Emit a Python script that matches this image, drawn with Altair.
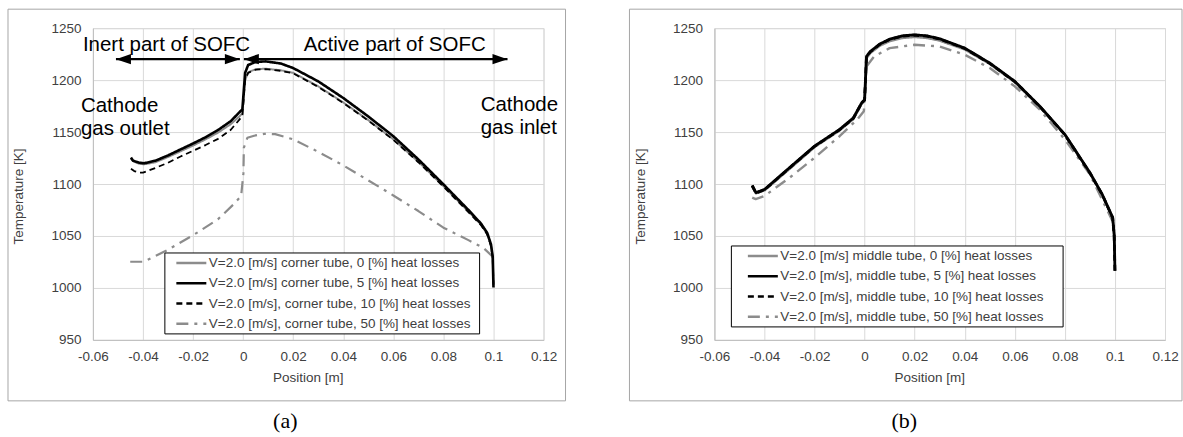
import altair as alt
import pandas as pd

FONT = "Liberation Sans"
GREY = "#8c8c8c"

# ---------------- data: panel (a) corner tube ----------------
A_NAMES = [
    "V=2.0 [m/s] corner tube, 0 [%] heat losses",
    "V=2.0 [m/s] corner tube, 5 [%] heat losses",
    "V=2.0 [m/s], corner tube, 10 [%] heat losses",
    "V=2.0 [m/s], corner tube, 50 [%] heat losses",
]
a0_x = [-0.0448, -0.0440, -0.0415, -0.0395, -0.035, -0.030, -0.025, -0.020, -0.015, -0.010, -0.005, -0.0015, -0.0003,
        0.0008, 0.0020, 0.0050, 0.0090, 0.0150, 0.0200, 0.0300, 0.0400, 0.0500, 0.0600, 0.0700, 0.0800, 0.0900,
        0.0950, 0.0975, 0.0990, 0.0997, 0.1000]
a0_t = [1124.5, 1122.0, 1119.5, 1119.0, 1121.0, 1126.0, 1131.5, 1137.0, 1143.0, 1149.5, 1157.5, 1165.0, 1168.0,
        1200.0, 1207.5, 1210.5, 1211.0, 1209.5, 1207.0, 1194.0, 1178.5, 1161.5, 1143.0, 1121.5, 1098.0, 1073.5,
        1061.0, 1052.0, 1041.0, 1030.0, 1004.0]
a5_x = [-0.0448, -0.0440, -0.0415, -0.0395, -0.035, -0.030, -0.025, -0.020, -0.015, -0.010, -0.005, -0.0015, -0.0003,
        0.0008, 0.0020, 0.0050, 0.0090, 0.0150, 0.0200, 0.0300, 0.0400, 0.0500, 0.0600, 0.0700, 0.0800, 0.0900,
        0.0950, 0.0975, 0.0990, 0.0997, 0.1000]
a5_t = [1125.5, 1122.5, 1120.5, 1120.0, 1122.5, 1127.5, 1133.3, 1139.0, 1145.0, 1152.0, 1160.4, 1169.0, 1172.0,
        1207.0, 1214.5, 1217.5, 1218.0, 1216.0, 1211.6, 1198.8, 1182.8, 1165.0, 1146.0, 1123.7, 1099.7, 1075.0,
        1062.0, 1053.0, 1042.0, 1030.0, 1000.5]
a10_x = [-0.0448, -0.0435, -0.0415, -0.0400, -0.035, -0.030, -0.025, -0.020, -0.015, -0.010, -0.005, -0.0015, -0.0003,
         0.0008, 0.0020, 0.0050, 0.0090, 0.0150, 0.0200, 0.0300, 0.0400, 0.0500, 0.0600, 0.0700, 0.0800, 0.0900,
         0.0950, 0.0975, 0.0990, 0.0997, 0.1000]
a10_t = [1114.7, 1112.5, 1111.0, 1110.9, 1115.5, 1120.5, 1126.5, 1132.0, 1137.5, 1143.5, 1152.0, 1162.0, 1165.5,
         1200.0, 1207.0, 1210.0, 1210.5, 1209.0, 1206.5, 1193.5, 1178.0, 1161.0, 1142.5, 1121.0, 1097.5, 1073.0,
         1060.5, 1051.5, 1040.5, 1029.0, 1003.0]
a50_x = [-0.0451, -0.0398, -0.0308, -0.0200, -0.0101, -0.0038, -0.0008, 0.0001, 0.0003, 0.0017, 0.0044, 0.0084,
         0.0128, 0.0200, 0.0300, 0.0400, 0.0500, 0.0600, 0.0700, 0.0800, 0.0900, 0.0960, 0.0993, 0.1000]
a50_t = [1025.2, 1025.2, 1035.7, 1050.7, 1066.0, 1080.5, 1088.5, 1110.0, 1135.0, 1144.5, 1146.5, 1148.3,
         1148.0, 1143.0, 1131.0, 1118.0, 1103.5, 1089.0, 1074.0, 1058.0, 1046.0, 1038.5, 1031.0, 1026.0]

# ---------------- data: panel (b) middle tube ----------------
B_NAMES = [
    "V=2.0 [m/s] middle tube, 0 [%] heat losses",
    "V=2.0 [m/s], middle tube, 5 [%] heat losses",
    "V=2.0 [m/s], middle tube, 10 [%] heat losses",
    "V=2.0 [m/s], middle tube, 50 [%] heat losses",
]
b_x = [-0.0449, -0.0434, -0.0399, -0.030, -0.020, -0.010, -0.0045, -0.0012, 0.0, 0.00075, 0.0023, 0.006, 0.010,
       0.015, 0.020, 0.025, 0.030, 0.040, 0.050, 0.060, 0.070, 0.080, 0.090, 0.0949, 0.0991, 0.0997, 0.1000]
b0_t = [1097.5, 1091.0, 1094.0, 1114.5, 1135.5, 1151.5, 1162.5, 1177.0, 1180.0, 1221.0, 1226.0, 1233.0, 1237.5,
        1240.5, 1241.5, 1240.5, 1238.0, 1229.5, 1215.5, 1198.0, 1174.5, 1147.5, 1110.5, 1090.0, 1067.5, 1050.0, 1030.0]
b5_t = [1098.7, 1091.7, 1094.9, 1115.7, 1136.5, 1152.5, 1163.6, 1178.0, 1181.2, 1222.8, 1227.6, 1234.6, 1239.4,
        1242.6, 1243.6, 1242.6, 1239.8, 1230.8, 1216.4, 1198.8, 1174.8, 1147.7, 1110.9, 1090.1, 1067.7, 1051.0, 1016.5]
b10_t = [1098.4, 1091.4, 1094.6, 1115.4, 1136.2, 1152.2, 1163.3, 1177.7, 1181.0, 1222.5, 1227.3, 1234.3, 1239.1,
         1242.3, 1243.3, 1242.3, 1239.5, 1230.5, 1216.1, 1198.5, 1174.5, 1147.4, 1110.6, 1089.8, 1067.4, 1050.0, 1014.5]
b50_x = [-0.0449, -0.0435, -0.0400, -0.030, -0.020, -0.010, -0.003, -0.0003, 0.00075, 0.0038, 0.010, 0.020, 0.030,
         0.040, 0.050, 0.060, 0.070, 0.080, 0.090, 0.099, 0.0997, 0.1000]
b50_t = [1087.0, 1085.5, 1088.5, 1106.0, 1125.3, 1146.0, 1162.0, 1170.0, 1213.2, 1222.8, 1230.8, 1234.0, 1232.4,
         1224.4, 1211.6, 1194.0, 1171.6, 1142.9, 1109.3, 1064.5, 1050.0, 1026.0]

X_TICKS = [-0.06, -0.04, -0.02, 0, 0.02, 0.04, 0.06, 0.08, 0.1, 0.12]
Y_TICKS = [950, 1000, 1050, 1100, 1150, 1200, 1250]

# annotation arrows (panel a)
ARROW_T = 1220.2
INERT = (-0.0508, -0.0013)
ACTIVE = (0.0003, 0.1056)

# styles
COLORS = [GREY, "black", "black", GREY]
DASHES = [[1, 0], [1, 0], [6, 4], [12, 6, 3, 6]]
A_WIDTHS = [2.0, 2.6, 1.8, 2.2]
B_WIDTHS = [2.4, 2.8, 2.8, 2.4]
DRAW_ORDER = [3, 0, 2, 1]


def make_df(names, xs, ts, widths):
    rows = []
    for k in DRAW_ORDER:
        for i, (a, b) in enumerate(zip(xs[k], ts[k])):
            rows.append({"series": names[k], "x": a, "T": b, "i": i, "w": widths[k]})
    return pd.DataFrame(rows)


def one():
    return pd.DataFrame({"k": [0]})


x_enc = alt.X(
    "x:Q",
    scale=alt.Scale(domain=[-0.06, 0.12], nice=False, zero=False),
    axis=alt.Axis(values=X_TICKS, title="Position [m]", ticks=False, tickSize=0, labelPadding=10,
                  labelExpr="datum.value < 0 ? '-' + format(-datum.value, '~g') : format(datum.value, '~g')",
                  labelFlush=False, labelOverlap=False, titleX=215, titleY=38, titleBaseline="middle",
                  labelFontSize=13.5, titleFontSize=13.5),
)
y_enc = alt.Y(
    "T:Q",
    scale=alt.Scale(domain=[950, 1250], nice=False, zero=False),
    axis=alt.Axis(values=Y_TICKS, format="d", title="Temperature [K]", ticks=False, tickSize=0, labelPadding=12,
                  labelFlush=False, labelOverlap=False, titleX=-74, titleY=168, titleAngle=270,
                  titleBaseline="middle", labelFontSize=13.5, titleFontSize=13.5),
)


def panel(names, xs, ts, widths, leg_box, sym_off, caption, cap_x, frame_right):
    df = make_df(names, xs, ts, widths)
    lx, ly, lx2, ly2 = leg_box
    leg = alt.Legend(orient="none", legendX=lx, legendY=ly, title=None, symbolType="stroke", symbolSize=900,
                     symbolStrokeWidth=2.5, clipHeight=20, rowPadding=0.3, padding=0, symbolOffset=sym_off,
                     labelOffset=1, labelFont=FONT, labelFontSize=13.5, labelColor="#404040", labelLimit=0)
    lines = alt.Chart(df).mark_line(strokeJoin="round", strokeCap="butt").encode(
        x=x_enc, y=y_enc,
        color=alt.Color("series:N", scale=alt.Scale(domain=names, range=COLORS), legend=leg),
        strokeDash=alt.StrokeDash("series:N", scale=alt.Scale(domain=names, range=DASHES), legend=leg),
        strokeWidth=alt.StrokeWidth("w:Q", scale=None, legend=None),
        order="i:Q",
    )
    box = alt.Chart(one()).mark_rect(fill="white", stroke="black", strokeWidth=1).encode(
        x=alt.value(lx), x2=alt.value(lx2), y=alt.value(ly), y2=alt.value(ly2))
    frame = alt.Chart(one()).mark_rect(fill="transparent", stroke="#a6a6a6", strokeWidth=1).encode(
        x=alt.value(-85), x2=alt.value(frame_right), y=alt.value(-19), y2=alt.value(373))
    cap = alt.Chart(one()).mark_text(text=caption, font="Liberation Serif", fontSize=22, color="black",
                                     baseline="middle", align="center").encode(
        x=alt.value(cap_x), y=alt.value(393))
    return [frame, lines, box, cap]


left_layers = panel(A_NAMES, [a0_x, a5_x, a10_x, a50_x], [a0_t, a5_t, a10_t, a50_t], A_WIDTHS,
                    (72, 225, 387, 306), 10, "(a)", 192.5, 473)
right_layers = panel(B_NAMES, [b_x, b_x, b_x, b50_x], [b0_t, b5_t, b10_t, b50_t], B_WIDTHS,
                     (17, 218, 349, 299), 15, "(b)", 190, 468)

# annotations for panel (a)
arrows = pd.DataFrame({"x1": [INERT[0], ACTIVE[0]], "x2": [INERT[1], ACTIVE[1]], "T": [ARROW_T, ARROW_T]})
shafts = alt.Chart(arrows).mark_rule(color="black", strokeWidth=2.5).encode(
    x=alt.X("x1:Q"), x2="x2:Q", y=alt.Y("T:Q"))
heads_l = alt.Chart(arrows).mark_point(shape="M0,0L2,-0.7L2,0.7Z", filled=True, color="black", opacity=1,
                                       size=225).encode(x="x1:Q", y="T:Q")
heads_r = alt.Chart(arrows).mark_point(shape="M0,0L-2,-0.7L-2,0.7Z", filled=True, color="black", opacity=1,
                                       size=225).encode(x="x2:Q", y="T:Q")
lab_left = pd.DataFrame({"x": [-0.0640, -0.0648], "T": [1227.9, 1169.2],
                         "txt": [["Inert part of SOFC"], ["Cathode", "gas outlet"]]})
lab_right = pd.DataFrame({"x": [0.0969], "T": [1227.9], "txt": [["Active part of SOFC"]]})
lab_inlet = pd.DataFrame({"x": [0.0949], "T": [1170.2], "txt": [["Cathode", "gas inlet"]]})
t_left = alt.Chart(lab_left).mark_text(align="left", baseline="alphabetic", font=FONT, fontSize=20.5,
                                       lineHeight=23, color="black").encode(x="x:Q", y="T:Q", text="txt")
t_right = alt.Chart(lab_right).mark_text(align="right", baseline="alphabetic", font=FONT, fontSize=20.5,
                                         color="black").encode(x="x:Q", y="T:Q", text="txt")
t_inlet = alt.Chart(lab_inlet).mark_text(align="left", baseline="alphabetic", font=FONT, fontSize=20.5,
                                         lineHeight=23, color="black").encode(x="x:Q", y="T:Q", text="txt")

left = alt.layer(*left_layers, shafts, heads_l, heads_r, t_left, t_right, t_inlet).properties(width=451, height=312)
right = alt.layer(*right_layers).properties(width=451, height=312)

chart = alt.hconcat(left, right, spacing=62).resolve_scale(
    color="independent", strokeDash="independent"
).resolve_legend(color="independent", strokeDash="independent").properties(
    padding={"left": 7, "top": 8, "right": 0, "bottom": 0}, background="white"
).configure_view(stroke="#d9d9d9").configure_axis(
    gridColor="#d9d9d9", domainColor="#bfbfbf", labelFont=FONT, titleFont=FONT, labelFontSize=13.5,
    titleFontSize=13.5, labelColor="#404040", titleColor="#404040", titleFontWeight="normal"
)

chart.save("out.html", embed_options={"renderer": "svg", "actions": False})
